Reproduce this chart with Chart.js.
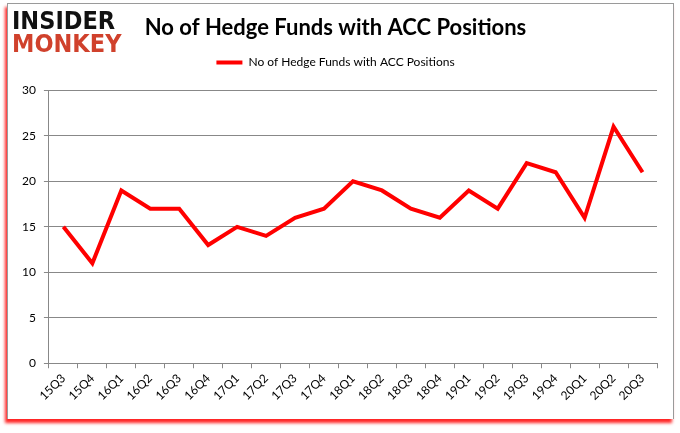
<!DOCTYPE html>
<html>
<head>
<meta charset="utf-8">
<script src="https://cdn.jsdelivr.net/npm/chart.js@4"></script>
<style>
  html,body{margin:0;padding:0;background:#fff;}
  #wrap{position:relative;width:680px;height:433px;overflow:hidden;}
  #frame{position:absolute;left:7px;top:3px;width:665px;height:415px;border:1px solid #9a9a9a;border-bottom:none;
    box-shadow:-2px 4px 3px rgba(255,0,0,0.85);}
  #logo{position:absolute;left:12px;top:9px;font-family:"DejaVu Sans Condensed","DejaVu Sans",sans-serif;font-stretch:condensed;font-weight:bold;line-height:23px;letter-spacing:0px;}
  #logo .a{color:#111;font-size:25px;}
  #logo .b{color:#d0412c;font-size:25px;}
  canvas{position:absolute;left:0;top:0;}
</style>
</head>
<body>
<div id="wrap">
  <div id="frame"></div>
  <canvas id="c" width="680" height="433"></canvas>
  <div id="logo"><div class="a">INSIDER</div><div class="b">MONKEY</div></div>
</div>
<script>
const categories = ["15Q3","15Q4","16Q1","16Q2","16Q3","16Q4","17Q1","17Q2","17Q3","17Q4","18Q1","18Q2","18Q3","18Q4","19Q1","19Q2","19Q3","19Q4","20Q1","20Q2","20Q3"];
const hedgeFunds = [15,11,19,17,17,13,15,14,16,17,20,19,17,16,19,17,22,21,16,26,21];
const seriesName = "No of Hedge Funds with ACC Positions";
const titleText = "No of Hedge Funds with ACC Positions";

const legendSpacing = {
  id: 'legendSpacing',
  beforeInit(chart) {
    const origFit = chart.legend.fit;
    chart.legend.fit = function () {
      origFit.bind(chart.legend)();
      this.height += 12;
    };
  }
};

new Chart(document.getElementById('c'), {
  type: 'line',
  data: {
    labels: categories,
    datasets: [{
      label: seriesName,
      data: hedgeFunds,
      borderColor: '#ff0000',
      backgroundColor: '#ff0000',
      borderWidth: 4,
      pointRadius: 0,
      tension: 0,
      fill: false
    }]
  },
  options: {
    responsive: false,
    animation: false,
    devicePixelRatio: 1,
    layout: { padding: { left: 14, right: 23, top: 4, bottom: 27 } },
    plugins: {
      title: {
        display: true,
        text: titleText,
        color: '#000',
        font: { family: 'Lato', size: 22, weight: 'bold' },
        padding: { top: 11, bottom: 5 }
      },
      legend: {
        display: true,
        labels: {
          color: '#000',
          font: { family: 'Lato', size: 12 },
          usePointStyle: true,
          pointStyle: 'line',
          pointStyleWidth: 26,
          boxHeight: 3
        }
      },
      tooltip: { enabled: false }
    },
    scales: {
      x: {
        offset: true,
        grid: { display: true, drawOnChartArea: false, drawTicks: true, tickLength: 5, offset: true, color: '#888' },
        border: { color: '#888' },
        ticks: { color: '#000', font: { family: 'Lato', size: 12 }, minRotation: 45, maxRotation: 45, autoSkip: false }
      },
      y: {
        min: 0, max: 30,
        grid: { color: '#888', tickLength: 5 },
        border: { color: '#888' },
        ticks: { stepSize: 5, color: '#000', font: { family: 'Lato', size: 12 }, padding: 8 }
      }
    }
  },
  plugins: [legendSpacing]
});
</script>
</body>
</html>
